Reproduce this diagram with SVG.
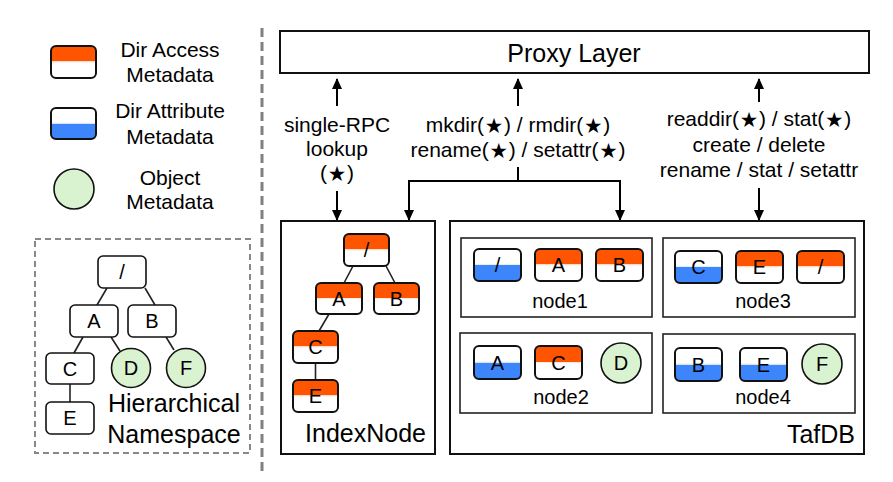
<svg xmlns="http://www.w3.org/2000/svg" width="893" height="482" viewBox="0 0 893 482">
<defs>
<linearGradient id="gAcc" x1="0" y1="0" x2="0" y2="1">
<stop offset="0" stop-color="#FF5500"/><stop offset="0.48" stop-color="#FF5500"/><stop offset="0.48" stop-color="#FBD9C8"/><stop offset="0.53" stop-color="#FFFFFF"/><stop offset="1" stop-color="#FFFFFF"/>
</linearGradient>
<linearGradient id="gAtt" x1="0" y1="0" x2="0" y2="1">
<stop offset="0" stop-color="#FFFFFF"/><stop offset="0.46" stop-color="#FFFFFF"/><stop offset="0.5" stop-color="#D6E4FB"/><stop offset="0.5" stop-color="#3D85FA"/><stop offset="1" stop-color="#3D85FA"/>
</linearGradient>
<marker id="ah" markerWidth="12" markerHeight="10" refX="10" refY="5" orient="auto" markerUnits="userSpaceOnUse">
<path d="M0,0 L11,5 L0,10 Z" fill="#000"/>
</marker>
<style>
text{font-family:"Liberation Sans",Arial,"Noto Sans CJK SC",sans-serif;fill:#000;}
.st{font-family:"Noto Sans CJK SC","Noto Sans CJK JP",sans-serif;font-size:17px;}
.t21{font-size:21px;text-anchor:middle;}
.t20{font-size:20px;text-anchor:middle;}
.t25{font-size:25px;}
.acc{fill:url(#gAcc);stroke:#111;stroke-width:2;}
.att{fill:url(#gAtt);stroke:#111;stroke-width:2;}
.pl{fill:#fff;stroke:#111;stroke-width:1.6;}
.obj{fill:#D9F2D0;stroke:#111;stroke-width:1.6;}
.cont{fill:#fff;stroke:#111;stroke-width:2;}
.sub{fill:#fff;stroke:#222;stroke-width:1.6;}
.edge{stroke:#222;stroke-width:1.6;fill:none;}
.arr{stroke:#000;stroke-width:2;fill:none;}
</style>
</defs>
<rect width="893" height="482" fill="#fff"/>

<!-- Legend -->
<g id="legend-access">
<rect x="51" y="46" width="45" height="32" rx="5" class="acc"/>
<text x="170" y="57" class="t21">Dir Access</text>
<text x="170" y="82" class="t21">Metadata</text>
</g>
<g id="legend-attribute">
<rect x="51" y="108" width="45" height="31" rx="5" class="att"/>
<text x="170" y="118" class="t21">Dir Attribute</text>
<text x="170" y="144" class="t21">Metadata</text>
</g>
<g id="legend-object">
<circle cx="74" cy="189" r="20" class="obj"/>
<text x="170" y="185" class="t21">Object</text>
<text x="170" y="209" class="t21">Metadata</text>
</g>

<line x1="262" y1="28" x2="262" y2="472" stroke="#808080" stroke-width="3" stroke-dasharray="9,5"/>

<!-- Hierarchical namespace -->
<g id="namespace">
<rect x="35" y="239" width="215" height="214" fill="none" stroke="#888" stroke-width="2" stroke-dasharray="6,4"/>
<g class="ns-edges">
<line x1="107" y1="288" x2="97" y2="305" class="edge"/>
<line x1="145" y1="288" x2="155" y2="305" class="edge"/>
<line x1="83" y1="337" x2="74" y2="353" class="edge"/>
<line x1="111" y1="337" x2="120" y2="351" class="edge"/>
<line x1="166" y1="337" x2="174" y2="350" class="edge"/>
<line x1="70" y1="384" x2="70" y2="402" class="edge"/>
</g>
<g id="ns-root"><rect x="98" y="256" width="48" height="32" rx="5" class="pl"/><text x="122" y="279" class="t20">/</text></g>
<g id="ns-A"><rect x="70" y="305" width="48" height="32" rx="5" class="pl"/><text x="94" y="328" class="t20">A</text></g>
<g id="ns-B"><rect x="128" y="305" width="48" height="32" rx="5" class="pl"/><text x="152" y="328" class="t20">B</text></g>
<g id="ns-C"><rect x="46" y="353" width="48" height="31" rx="5" class="pl"/><text x="70" y="376" class="t20">C</text></g>
<g id="ns-D"><circle cx="131" cy="368" r="19.5" class="obj"/><text x="131" y="375" class="t20">D</text></g>
<g id="ns-F"><circle cx="186" cy="368" r="19.5" class="obj"/><text x="186" y="375" class="t20">F</text></g>
<g id="ns-E"><rect x="46" y="402" width="48" height="32" rx="5" class="pl"/><text x="70" y="425" class="t20">E</text></g>
<text x="174" y="412" class="t25" text-anchor="middle">Hierarchical</text>
<text x="174" y="443" class="t25" text-anchor="middle">Namespace</text>
</g>

<!-- Proxy layer -->
<g id="proxy">
<rect x="280" y="31" width="589" height="42" class="cont"/>
<text x="574" y="62" class="t25" text-anchor="middle">Proxy Layer</text>
</g>

<!-- Connectors -->
<g id="connectors">
<line x1="337" y1="106" x2="337" y2="79" class="arr" marker-end="url(#ah)"/>
<line x1="518" y1="106" x2="518" y2="79" class="arr" marker-end="url(#ah)"/>
<line x1="759" y1="102" x2="759" y2="79" class="arr" marker-end="url(#ah)"/>
<line x1="337" y1="191" x2="337" y2="220" class="arr" marker-end="url(#ah)"/>
<polyline points="518,167 518,181 409,181 409,220" class="arr" marker-end="url(#ah)"/>
<polyline points="518,181 620,181 620,220" class="arr" marker-end="url(#ah)"/>
<line x1="759" y1="188" x2="759" y2="220" class="arr" marker-end="url(#ah)"/>
<text x="337" y="132" class="t21">single-RPC</text>
<text x="337" y="156" class="t21">lookup</text>
<text x="337" y="180" class="t21">(<tspan class="st" dx="1.5">★</tspan><tspan dx="1.5">)</tspan></text>
<text x="518" y="132" class="t21">mkdir(<tspan class="st" dx="1.5">★</tspan><tspan dx="1.5">) / rmdir(</tspan><tspan class="st" dx="1.5">★</tspan><tspan dx="1.5">)</tspan></text>
<text x="518" y="157" class="t21">rename(<tspan class="st" dx="1.5">★</tspan><tspan dx="1.5">) / setattr(</tspan><tspan class="st" dx="1.5">★</tspan><tspan dx="1.5">)</tspan></text>
<text x="759" y="126" class="t21">readdir(<tspan class="st" dx="1.5">★</tspan><tspan dx="1.5">) / stat(</tspan><tspan class="st" dx="1.5">★</tspan><tspan dx="1.5">)</tspan></text>
<text x="759" y="152" class="t21">create / delete</text>
<text x="759" y="177" class="t21">rename / stat / setattr</text>
</g>

<!-- IndexNode -->
<g id="indexnode">
<rect x="281" y="221" width="154" height="233" class="cont"/>
<line x1="353" y1="266" x2="344" y2="283" class="edge"/>
<line x1="386" y1="266" x2="395" y2="283" class="edge"/>
<line x1="329" y1="314" x2="319" y2="331" class="edge"/>
<line x1="315.5" y1="363" x2="315.5" y2="380" class="edge"/>
<g id="in-root"><rect x="344" y="234" width="45" height="32" rx="5" class="acc"/><text x="366.5" y="257" class="t20">/</text></g>
<g id="in-A"><rect x="316" y="283" width="46" height="31" rx="5" class="acc"/><text x="339" y="305.5" class="t20">A</text></g>
<g id="in-B"><rect x="374" y="283" width="45" height="31" rx="5" class="acc"/><text x="396.5" y="305.5" class="t20">B</text></g>
<g id="in-C"><rect x="293" y="331" width="45" height="32" rx="5" class="acc"/><text x="315.5" y="354" class="t20">C</text></g>
<g id="in-E"><rect x="293" y="380" width="45" height="32" rx="5" class="acc"/><text x="315.5" y="403" class="t20">E</text></g>
<text x="426" y="442" class="t25" text-anchor="end">IndexNode</text>
</g>

<!-- TafDB -->
<g id="tafdb">
<rect x="450" y="221" width="414" height="233" class="cont"/>
<text x="855" y="443" class="t25" text-anchor="end">TafDB</text>
</g>
<g id="node1">
<rect x="461" y="238" width="191" height="79" class="sub"/>
<rect x="474" y="249" width="47" height="32" rx="5" class="att"/><text x="497.5" y="272" class="t20">/</text>
<rect x="535" y="249" width="47" height="32" rx="5" class="acc"/><text x="558.5" y="272" class="t20">A</text>
<rect x="596" y="249" width="47" height="32" rx="5" class="acc"/><text x="619.5" y="272" class="t20">B</text>
<text x="560" y="308" class="t20">node1</text>
</g>
<g id="node3">
<rect x="663" y="238" width="192" height="79" class="sub"/>
<rect x="675" y="251" width="47" height="32" rx="5" class="att"/><text x="698.5" y="274" class="t20">C</text>
<rect x="736" y="251" width="47" height="32" rx="5" class="acc"/><text x="759.5" y="274" class="t20">E</text>
<rect x="797" y="251" width="47" height="32" rx="5" class="acc"/><text x="820.5" y="274" class="t20">/</text>
<text x="763" y="308" class="t20">node3</text>
</g>
<g id="node2">
<rect x="460" y="333" width="192" height="80" class="sub"/>
<rect x="474" y="346" width="47" height="33" rx="5" class="att"/><text x="497.5" y="369.5" class="t20">A</text>
<rect x="535" y="346" width="47" height="33" rx="5" class="acc"/><text x="558.5" y="369.5" class="t20">C</text>
<circle cx="621" cy="363" r="20" class="obj"/><text x="621" y="370" class="t20">D</text>
<text x="561" y="404" class="t20">node2</text>
</g>
<g id="node4">
<rect x="663" y="334" width="192" height="79" class="sub"/>
<rect x="675" y="348" width="47" height="33" rx="5" class="att"/><text x="698.5" y="371.5" class="t20">B</text>
<rect x="740" y="348" width="47" height="33" rx="5" class="att"/><text x="763.5" y="371.5" class="t20">E</text>
<circle cx="822" cy="364" r="20" class="obj"/><text x="822" y="371" class="t20">F</text>
<text x="763" y="404" class="t20">node4</text>
</g>
</svg>
